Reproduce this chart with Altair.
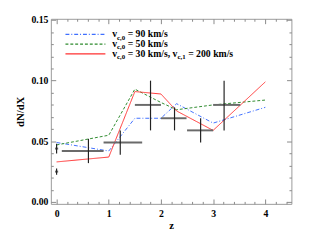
import altair as alt
import pandas as pd

# ---- data ----
model_z = [0, 1, 1.5, 2, 2.3, 3, 4]
v90 = [0.049, 0.042, 0.069, 0.069, 0.081, 0.065, 0.078]
v50 = [0.047, 0.055, 0.093, 0.082, 0.076, 0.080, 0.084]
v30 = [0.033, 0.037, 0.091, 0.089, 0.075, 0.059, 0.099]

obs_z = [0.61, 1.22, 1.80, 2.26, 2.76, 3.21]
obs_zlo = [0.10, 0.90, 1.50, 2.00, 2.50, 3.00]
obs_zhi = [0.90, 1.64, 2.00, 2.49, 3.00, 3.52]
obs_y = [0.042, 0.049, 0.080, 0.069, 0.059, 0.080]
obs_ylo = [0.032, 0.039, 0.059, 0.059, 0.049, 0.059]
obs_yhi = [0.052, 0.059, 0.100, 0.078, 0.069, 0.100]

low_z = [0.0, 0.0]
low_y = [0.044, 0.025]
low_dy = [0.004, 0.0025]
low_dz = [0.03, 0.03]

legend_lines = [
    [("v", 0), ("c,0", 1), (" = 90 km/s", 0)],
    [("v", 0), ("c,0", 1), (" = 50 km/s", 0)],
    [("v", 0), ("c,0", 1), (" = 30 km/s, v", 0), ("c,1", 1), (" = 200 km/s", 0)],
]
series_colors = ["#3f6fff", "#2e8b2e", "#ff3030"]
series_dash = [[4, 2, 1, 2], [3, 2], [1, 0]]

FONT = "Liberation Serif"
xs = alt.Scale(domain=[-0.11, 4.5], nice=False, zero=False)
ys = alt.Scale(domain=[-0.0016, 0.151], nice=False, zero=False)

obs = pd.DataFrame({"z": obs_z, "zlo": obs_zlo, "zhi": obs_zhi,
                    "y": obs_y, "ylo": obs_ylo, "yhi": obs_yhi})
low = pd.DataFrame({"z": low_z, "y": low_y,
                    "zlo": [a - b for a, b in zip(low_z, low_dz)],
                    "zhi": [a + b for a, b in zip(low_z, low_dz)],
                    "ylo": [a - b for a, b in zip(low_y, low_dy)],
                    "yhi": [a + b for a, b in zip(low_y, low_dy)]})

x_major = [0, 1, 2, 3, 4]
x_minor = [round(i * 0.2, 2) for i in range(23) if i % 5 != 0]
y_major = [0.0, 0.05, 0.10, 0.15]
y_minor = [round(i * 0.01, 2) for i in range(16) if i % 5 != 0]

TICK = "#888888"


def axis(orient, values, size, labels=False, title=None, fmt=None, **extra):
    kw = dict(orient=orient, values=values, tickSize=size, offset=-size,
              domain=False, grid=False, labels=labels, ticks=True,
              tickColor=TICK, tickWidth=1, title=title)
    if labels:
        kw.update(labelFont=FONT, labelFontSize=10, labelFontWeight="bold",
                  labelColor="black", format=fmt)
    if title:
        kw.update(titleFont=FONT, titleFontSize=11, titleFontWeight="bold",
                  titleColor="black")
    kw.update(extra)
    return alt.Axis(**kw)


def axis_layer(xa, ya):
    return alt.Chart(obs).mark_point(opacity=0).encode(
        x=alt.X("z:Q", scale=xs, axis=xa),
        y=alt.Y("y:Q", scale=ys, axis=ya),
    )


layers = [
    axis_layer(axis("bottom", x_major, 5, True, "z", "d", labelPadding=5, titlePadding=1),
               axis("left", y_major, 5, True, "dN/dX", ".2f", labelPadding=3, titlePadding=6)),
    axis_layer(axis("bottom", x_minor, 2.5), axis("left", y_minor, 2.5)),
    axis_layer(axis("top", x_major, 5), axis("right", y_major, 5)),
    axis_layer(axis("top", x_minor, 2.5), axis("right", y_minor, 2.5)),
]

for vals, col, dash in zip([v90, v50, v30], series_colors, series_dash):
    df = pd.DataFrame({"z": model_z, "v": vals})
    layers.append(
        alt.Chart(df).mark_line(color=col, strokeWidth=1, strokeDash=dash).encode(
            x=alt.X("z:Q", scale=xs, axis=None),
            y=alt.Y("v:Q", scale=ys, axis=None),
        )
    )

for d in [obs, low]:
    layers.append(
        alt.Chart(d).mark_rule(color="#6a6a6a", strokeWidth=2).encode(
            x=alt.X("zlo:Q", scale=xs, axis=None), x2="zhi:Q",
            y=alt.Y("y:Q", scale=ys, axis=None),
        )
    )
    layers.append(
        alt.Chart(d).mark_rule(color="#222222", strokeWidth=1.2).encode(
            x=alt.X("z:Q", scale=xs, axis=None),
            y=alt.Y("ylo:Q", scale=ys, axis=None), y2="yhi:Q",
        )
    )

# ---- legend (drawn inside the plot) ----
W = {"v": .5, "c": .444, ",": .25, " ": .25, "=": .570, "k": .556, "m": .833,
     "/": .278, "s": .389}


def text_width(t, size):
    return sum(W.get(ch, .5) for ch in t) * size


LX0, LX1, TX = 15, 56, 63   # relative to plot left
LY0, DY = 16, 10
for i, pieces in enumerate(legend_lines):
    ly = LY0 + i * DY
    layers.append(
        alt.Chart(pd.DataFrame({"a": [0]})).mark_rule(
            color=series_colors[i], strokeWidth=1.2 if i < 2 else 1.5,
            strokeDash=series_dash[i]).encode(
            x=alt.value(LX0), x2=alt.value(LX1), y=alt.value(ly))
    )
    x = TX
    for txt, sub in pieces:
        size = 7 if sub else 10
        stripped = txt.lstrip(" ")
        x += text_width(txt[: len(txt) - len(stripped)], size)
        layers.append(
            alt.Chart(pd.DataFrame({"t": [stripped]})).mark_text(
                align="left", baseline="alphabetic", font=FONT, fontSize=size,
                fontWeight="bold", color="black").encode(
                text="t:N", x=alt.value(x), y=alt.value(ly + (5.5 if sub else 2.8)))
        )
        x += text_width(stripped, size)

chart = alt.layer(*layers).resolve_axis(x="independent", y="independent").properties(
    width=247, height=190,
    autosize=alt.AutoSizeParams(type="none"),
    padding={"left": 44, "top": 8, "right": 16, "bottom": 34},
    background="white",
).configure_view(stroke="#999999", strokeWidth=1)

chart.save("out.html", embed_options={"renderer": "svg", "actions": False})
